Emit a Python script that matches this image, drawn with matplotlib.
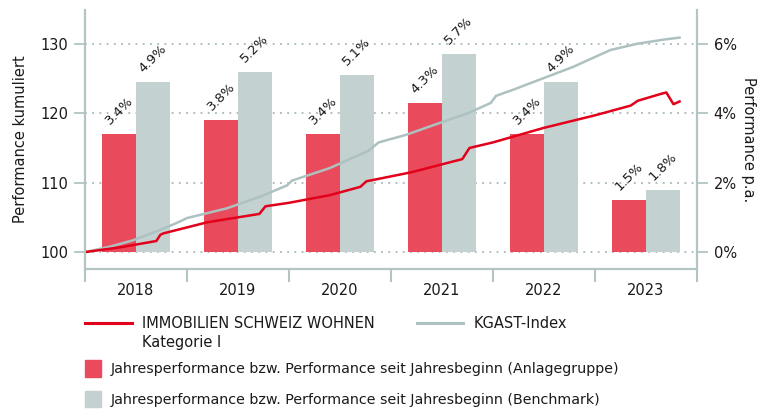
import matplotlib.pyplot as plt
from matplotlib.lines import Line2D
from matplotlib.patches import Patch

# Jahresperformance in % (Balken, rechte Achse)
years = ['2018', '2019', '2020', '2021', '2022', '2023']
perf_fund = [3.4, 3.8, 3.4, 4.3, 3.4, 1.5]
perf_bench = [4.9, 5.2, 5.1, 5.7, 4.9, 1.8]

# kumulierte Performance (linke Achse), Zeit in Jahren ab Anfang 2018
t_fund = [0.00, 0.35, 0.70, 0.74, 0.77, 1.20, 1.71, 1.77, 2.00, 2.40, 2.70, 2.76,
          3.20, 3.70, 3.77, 4.00, 4.50, 5.00, 5.35, 5.42, 5.65, 5.70, 5.77, 5.83]
cum_fund = [100.0, 100.7, 101.6, 102.5, 102.7, 104.3, 105.5, 106.6, 107.1, 108.2, 109.4, 110.2,
            111.5, 113.4, 115.0, 115.8, 117.9, 119.7, 121.1, 121.8, 122.8, 123.0, 121.3, 121.7]
t_kgast = [0.00, 0.25, 0.47, 0.74, 0.93, 1.00, 1.39, 1.72, 1.98, 2.03, 2.40, 2.78,
           2.88, 3.15, 3.42, 3.77, 3.98, 4.03, 4.20, 4.79, 5.15, 5.41, 5.67, 5.83]
cum_kgast = [100.0, 100.8, 101.7, 103.2, 104.4, 104.9, 106.3, 108.0, 109.6, 110.3, 112.1, 114.6,
             115.8, 116.9, 118.3, 120.1, 121.5, 122.5, 123.4, 126.7, 129.1, 130.0, 130.6, 130.9]

RED_BAR = '#e94b5d'
GREY_BAR = '#c3d1d1'
RED_LINE = '#e2001a'
GREY_LINE = '#aec1c1'
AXIS = '#b3c4c4'
TXT = '#1a1a1a'

plt.rcParams['font.family'] = ['DejaVu Sans']
plt.rcParams['font.size'] = 10

fig = plt.figure(figsize=(7.65, 4.09), dpi=100)
ax = fig.add_axes([0.111, 0.342, 0.800, 0.634])
ax2 = ax.twinx()

ylo, yhi = 97.55, 134.9
ax.set_ylim(ylo, yhi)
ax2.set_ylim((ylo - 100) / 5, (yhi - 100) / 5)
ax.set_xlim(0, 6)

# Balken auf rechter Achse
w = 0.33
xc = [i + 0.5 for i in range(len(years))]
ax2.bar([x - w / 2 for x in xc], perf_fund, width=w, color=RED_BAR, zorder=2)
ax2.bar([x + w / 2 for x in xc], perf_bench, width=w, color=GREY_BAR, zorder=2)
for x, a, b in zip(xc, perf_fund, perf_bench):
    ax2.annotate(f'{a:.1f}%', (x - w / 2, a), xytext=(0, 5), textcoords='offset points',
                 rotation=45, ha='center', va='bottom', fontsize=9.5, color=TXT)
    ax2.annotate(f'{b:.1f}%', (x + w / 2, b), xytext=(0, 5), textcoords='offset points',
                 rotation=45, ha='center', va='bottom', fontsize=9.5, color=TXT)

ax2.set_axisbelow(True)
ax2.yaxis.grid(True, linestyle=(0, (1, 3)), color='#a7b7b7', linewidth=1.3)
ax2.set_yticks([0, 2, 4, 6])
ax2.set_yticklabels(['0%', '2%', '4%', '6%'])

# Linien auf linker Achse, über den Balken
ax.set_zorder(ax2.get_zorder() + 1)
ax.patch.set_visible(False)
ax.plot(t_kgast, cum_kgast, color=GREY_LINE, lw=1.8)
ax.plot(t_fund, cum_fund, color=RED_LINE, lw=1.8)
ax.set_yticks([100, 110, 120, 130])

ax.set_xticks(range(7))
ax.set_xticklabels([])
ax.set_xticks(xc, minor=True)
ax.set_xticklabels(years, minor=True)
ax.tick_params(axis='x', which='minor', length=0, pad=10, labelsize=10.5, labelcolor=TXT)
ax.tick_params(axis='x', which='major', length=9, width=1.5, color=AXIS)
ax.tick_params(axis='y', length=8, width=1.3, color=AXIS, labelsize=10.5, labelcolor=TXT, pad=4)
ax2.tick_params(axis='y', length=8, width=1.3, color=AXIS, labelsize=10.5, labelcolor=TXT, pad=4)

for a in (ax, ax2):
    a.spines['top'].set_visible(False)
    for s in ('left', 'right', 'bottom'):
        a.spines[s].set_color(AXIS)
        a.spines[s].set_linewidth(1.5)

ax.set_ylabel('Performance kumuliert', fontsize=10.5, color=TXT, labelpad=9)
ax2.set_ylabel('Performance p.a.', fontsize=10.5, color=TXT, rotation=270, labelpad=14)

# Legende
leg1 = fig.legend(handles=[Line2D([], [], color=RED_LINE, lw=2.2),
                           Line2D([], [], color=GREY_LINE, lw=2.2)],
                  labels=['IMMOBILIEN SCHWEIZ WOHNEN', 'KGAST-Index'],
                  ncol=2, loc='center left', bbox_to_anchor=(0.111, 1 - 324 / 409),
                  frameon=False, handlelength=3.2, handletextpad=0.7,
                  columnspacing=2.9, borderaxespad=0, borderpad=0, fontsize=10.5)
fig.text(142 / 765, 1 - 342 / 409, 'Kategorie I', fontsize=10.5, va='center', color=TXT)
for t in leg1.get_texts():
    t.set_color(TXT)

leg2 = fig.legend(handles=[Patch(color=RED_BAR), Patch(color=GREY_BAR)],
                  labels=['Jahresperformance bzw. Performance seit Jahresbeginn (Anlagegruppe)',
                          'Jahresperformance bzw. Performance seit Jahresbeginn (Benchmark)'],
                  loc='upper left', bbox_to_anchor=(0.111, 1 - 360 / 409),
                  frameon=False, handlelength=1.1, handleheight=1.4, handletextpad=0.7,
                  labelspacing=1.0, borderaxespad=0, borderpad=0, fontsize=10.3)
for t in leg2.get_texts():
    t.set_color(TXT)

fig.savefig('out.png', dpi=100)
